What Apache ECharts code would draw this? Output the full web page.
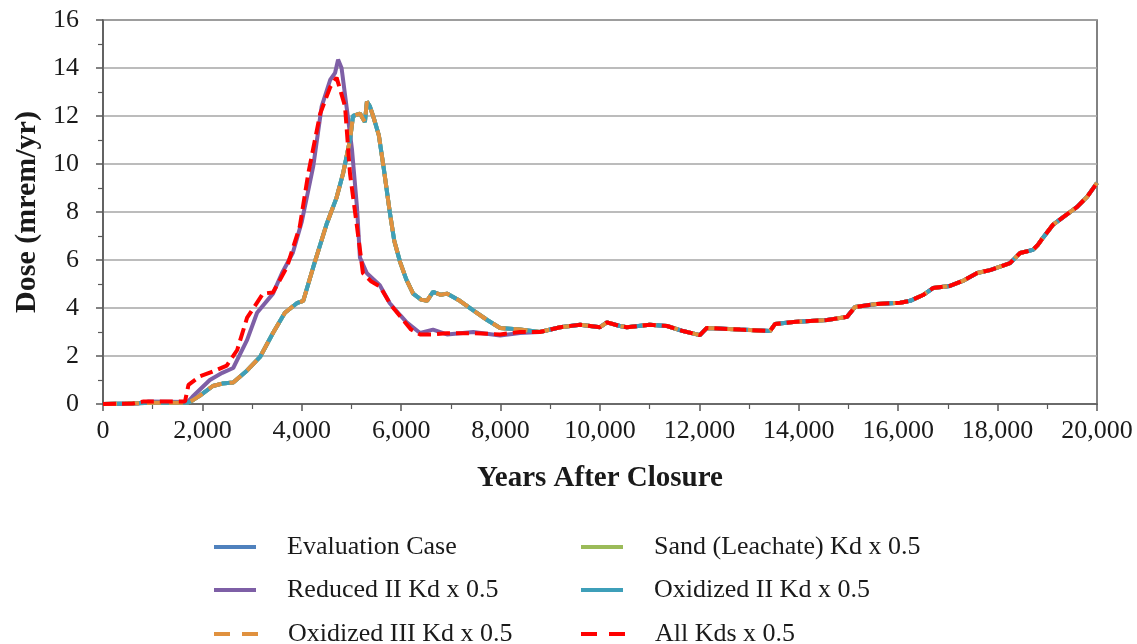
<!DOCTYPE html>
<html>
<head>
<meta charset="utf-8">
<script src="https://cdn.jsdelivr.net/npm/echarts@6/dist/echarts.min.js"></script>
<style>
  html, body { margin: 0; padding: 0; background: #fff; }
  #chart { width: 1137px; height: 644px; }
</style>
</head>
<body>
<div id="chart"></div>
<script>
// x ticks / y ticks
const xTicks = [0, 2000, 4000, 6000, 8000, 10000, 12000, 14000, 16000, 18000, 20000];
const yTicks = [0, 2, 4, 6, 8, 10, 12, 14, 16];

// Evaluation / Sand / Oxidized II / Oxidized III (nearly identical curves), up to ~8,400 yr
const yearsBase = [0, 500, 1000, 1500, 1700, 1800, 1950, 2210, 2400, 2620, 2900, 3160, 3420, 3660, 3900, 4030, 4230, 4500, 4700, 4830, 4970, 5030, 5170, 5270, 5310, 5370, 5450, 5550, 5650, 5770, 5860, 5980, 6100, 6240, 6400, 6520, 6640, 6800, 6920, 7180, 7450, 7730, 7990, 8390];
const doseBase = [0, 0.02, 0.05, 0.05, 0.05, 0.15, 0.35, 0.75, 0.85, 0.9, 1.4, 1.96, 2.96, 3.8, 4.2, 4.3, 5.7, 7.5, 8.6, 9.6, 11.0, 12.0, 12.1, 11.75, 12.6, 12.4, 11.9, 11.2, 9.8, 8.0, 6.8, 5.9, 5.2, 4.6, 4.35, 4.3, 4.67, 4.55, 4.6, 4.3, 3.9, 3.5, 3.17, 3.1];

// Reduced II Kd x 0.5
const yearsReduced = [0, 700, 900, 1700, 1800, 2150, 2400, 2620, 2900, 3100, 3420, 3600, 3820, 4000, 4230, 4400, 4570, 4670, 4730, 4800, 4900, 5010, 5110, 5170, 5310, 5570, 5770, 5980, 6110, 6380, 6640, 6920, 7450, 7990, 8390];
const doseReduced = [0, 0.02, 0.1, 0.08, 0.3, 1.0, 1.3, 1.5, 2.67, 3.8, 4.6, 5.45, 6.3, 7.6, 9.9, 12.4, 13.5, 13.8, 14.35, 14.0, 12.4, 10.6, 8.2, 6.1, 5.45, 4.95, 4.2, 3.7, 3.4, 2.96, 3.1, 2.9, 3.0, 2.85, 2.96];

// All Kds x 0.5
const yearsAllKds = [0, 600, 800, 1650, 1720, 1950, 2210, 2490, 2700, 2900, 3220, 3420, 3700, 3960, 4130, 4370, 4570, 4700, 4870, 4970, 5110, 5230, 5400, 5570, 5800, 6000, 6200, 6380, 6640, 6920, 7450, 7990, 8390];
const doseAllKds = [0, 0.02, 0.1, 0.1, 0.8, 1.15, 1.35, 1.6, 2.25, 3.6, 4.6, 4.65, 5.7, 7.4, 9.6, 12.1, 13.2, 13.6, 12.4, 9.6, 7.4, 5.45, 5.1, 4.9, 4.1, 3.6, 3.1, 2.9, 2.9, 2.95, 2.95, 2.9, 3.0];

// shared tail (all cases coincide)
const yearsTail = [8790, 9200, 9600, 10000, 10140, 10400, 10540, 11000, 11350, 11670, 12010, 12150, 12820, 13420, 13520, 13890, 14570, 14970, 15130, 15570, 16040, 16240, 16500, 16700, 17040, 17300, 17590, 17850, 18250, 18450, 18710, 18810, 18910, 19110, 19320, 19600, 19800, 20000];
const doseTail = [3.0, 3.2, 3.3, 3.2, 3.4, 3.25, 3.2, 3.3, 3.25, 3.04, 2.87, 3.17, 3.1, 3.04, 3.33, 3.42, 3.5, 3.63, 4.04, 4.17, 4.22, 4.3, 4.54, 4.83, 4.92, 5.13, 5.46, 5.58, 5.87, 6.29, 6.42, 6.63, 6.92, 7.46, 7.79, 8.21, 8.63, 9.21];

const seriesNames = ['Evaluation Case', 'Sand (Leachate) Kd x 0.5', 'Reduced II Kd x 0.5', 'Oxidized II Kd x 0.5', 'Oxidized III Kd x 0.5', 'All Kds x 0.5'];
const seriesColors = ['#4F81BD', '#9BBB59', '#7E5FA6', '#3E9FB9', '#E0913E', '#FF0000'];

const zip = (xs, ys) => xs.map((x, i) => [x, ys[i]]);
const withTail = (xs, ys) => zip(xs, ys).concat(zip(yearsTail, doseTail));

const baseData = withTail(yearsBase, doseBase);
const reducedData = withTail(yearsReduced, doseReduced);
const allKdsData = withTail(yearsAllKds, doseAllKds);

const lineSeries = (idx, data, dash) => ({
  name: seriesNames[idx],
  type: 'line',
  data,
  symbol: 'none',
  smooth: false,
  animation: false,
  itemStyle: { color: seriesColors[idx] },
  lineStyle: { color: seriesColors[idx], width: 4, type: dash || 'solid', cap: 'butt' },
  z: 2 + idx,
});

const font = 'Liberation Serif, Times New Roman, serif';
const textColor = '#1a1a1a';

// legend icons: solid bar or two dashes
const solidIcon = 'path://M0,0h42v4h-42z';
const dashIcon = 'path://M0,0h16v4h-16z M28,0h16v4h-16z';

// one legend per entry: [series index, left, top, icon]
const legendSlots = [
  [0, 209, 529, solidIcon],
  [1, 576, 529, solidIcon],
  [2, 209, 572, solidIcon],
  [3, 576, 572, solidIcon],
  [4, 209, 616, dashIcon],
  [5, 576, 616, dashIcon],
];

const legends = legendSlots.map(([idx, left, top, icon]) => ({
  left, top,
  itemWidth: 44, itemHeight: 4,
  icon,
  data: [seriesNames[idx]],
  selectedMode: false,
  itemStyle: { color: seriesColors[idx] },
  textStyle: { fontFamily: font, fontSize: 26, color: textColor, padding: [0, 0, 0, 25] },
}));

const chart = echarts.init(document.getElementById('chart'));
chart.setOption({
  backgroundColor: '#fff',
  animation: false,
  textStyle: { fontFamily: font },
  grid: {
    left: 103, right: 40, top: 20, bottom: 240,
    show: true, borderColor: '#595959', borderWidth: 1.5,
    outerBoundsMode: 'none',
  },
  legend: legends,
  xAxis: {
    type: 'value',
    min: xTicks[0],
    max: xTicks[xTicks.length - 1],
    interval: xTicks[1] - xTicks[0],
    name: 'Years After Closure',
    nameLocation: 'middle',
    nameGap: 60,
    nameTextStyle: { fontFamily: font, fontSize: 29, fontWeight: 'bold', color: textColor },
    axisLine: { lineStyle: { color: '#595959', width: 1.5 } },
    axisTick: { length: 7, lineStyle: { color: '#595959', width: 1.5 } },
    minorTick: { show: true, splitNumber: 2, length: 5, lineStyle: { color: '#595959', width: 1.2 } },
    splitLine: { show: false },
    axisLabel: {
      margin: 14, fontFamily: font, fontSize: 26, color: textColor,
      formatter: (v) => v.toLocaleString('en-US'),
    },
  },
  yAxis: {
    type: 'value',
    min: yTicks[0],
    max: yTicks[yTicks.length - 1],
    interval: yTicks[1] - yTicks[0],
    name: 'Dose (mrem/yr)',
    nameLocation: 'middle',
    nameGap: 54,
    nameTextStyle: { fontFamily: font, fontSize: 30, fontWeight: 'bold', color: textColor },
    axisLine: { show: true, lineStyle: { color: '#595959', width: 1.5 } },
    axisTick: { show: true, length: 7, lineStyle: { color: '#595959', width: 1.5 } },
    minorTick: { show: true, splitNumber: 2, length: 5, lineStyle: { color: '#595959', width: 1.2 } },
    splitLine: { show: true, lineStyle: { color: '#A6A6A6', width: 1.5 } },
    axisLabel: { margin: 24, fontFamily: font, fontSize: 26, color: textColor },
  },
  series: [
    lineSeries(0, baseData),
    lineSeries(1, baseData),
    lineSeries(2, reducedData),
    lineSeries(3, baseData),
    lineSeries(4, baseData, [14, 8]),
    lineSeries(5, allKdsData, [13, 6]),
  ],
});
</script>
</body>
</html>
